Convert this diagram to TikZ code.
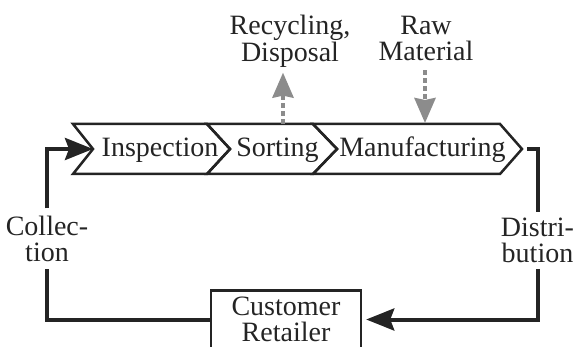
\documentclass[tikz,border=0pt]{standalone}
\usepackage{fontspec}
\setmainfont{Liberation Serif}
\usetikzlibrary{arrows.meta,calc}
\definecolor{lineblack}{RGB}{36,36,36}
\definecolor{arrowgray}{RGB}{140,140,140}

\begin{document}
\begin{tikzpicture}[x=1pt,y=-1pt]
		\fontsize{28}{26.5}\selectfont
		\tikzstyle{text_block} = [align=center, inner sep=0, text=lineblack];
		\tikzstyle{rect_block} = [draw=lineblack, line width=2.5pt, rectangle, minimum width=150, minimum height=58, align=center, inner sep=0, text=lineblack];
		\tikzstyle{chev_line} = [draw=lineblack, line width=2.5pt, line join=miter];
		\tikzstyle{flow_line} = [draw=lineblack, line width=4pt];
		\tikzstyle{flow_arrow} = [flow_line, -{Stealth[length=28pt, width=22pt, inset=4pt]}];
		\tikzstyle{side_arrow} = [draw=arrowgray, line width=4pt, dash pattern=on 5pt off 3pt, -{Stealth[length=25pt, width=21pt, inset=2pt]}];

		\useasboundingbox (0,0) rectangle (575,347);

		\draw[chev_line] (73,124) -- (207,124) -- (230,149) -- (207,174) -- (73,174) -- (93,149) -- cycle;
		\draw[chev_line] (207,124) -- (313,124) -- (337,149) -- (313,174) -- (207,174) -- (230,149) -- cycle;
		\draw[chev_line] (313,124) -- (500,124) -- (522,149) -- (500,174) -- (313,174) -- (337,149) -- cycle;

		\node[text_block, anchor=base] (insp) at (160,157) {Inspection};
		\node[text_block, anchor=base] (sort) at (277.5,157) {Sorting};
		\node[text_block, anchor=base] (manu) at (422.5,157) {Manufacturing};

		\coordinate (inspin) at (93,149);
		\coordinate (manuout) at (527,149);
		\coordinate (sorttop) at (283,124);
		\coordinate (manutop) at (425,123);

		\node[text_block, inner ysep=5] (recy) at (290,41.5) {Recycling,\\Disposal};
		\node[text_block, inner ysep=9] (raw) at (426,38.7) {Raw\\Material};

		\node[text_block, inner ysep=7] (coll) at (47,238.7) {Collec-\\tion};
		\node[text_block, inner ysep=5.5] (dist) at (537.5,240.5) {Distri-\\bution};

		\node[rect_block] (cust) at (286,319.5) {Customer\\Retailer};

		\draw[side_arrow] (sorttop) -- (sorttop |- recy.south);
		\draw[side_arrow] (manutop |- raw.south) -- (manutop);

		\draw[flow_line] (cust.west) -| (coll.south);
		\draw[flow_arrow] (coll.north) |- (inspin);
		\draw[flow_line] (manuout) -| (dist.north);
		\draw[flow_arrow, shorten >=4pt] (dist.south) |- (cust.east);
	\end{tikzpicture}
\end{document}
